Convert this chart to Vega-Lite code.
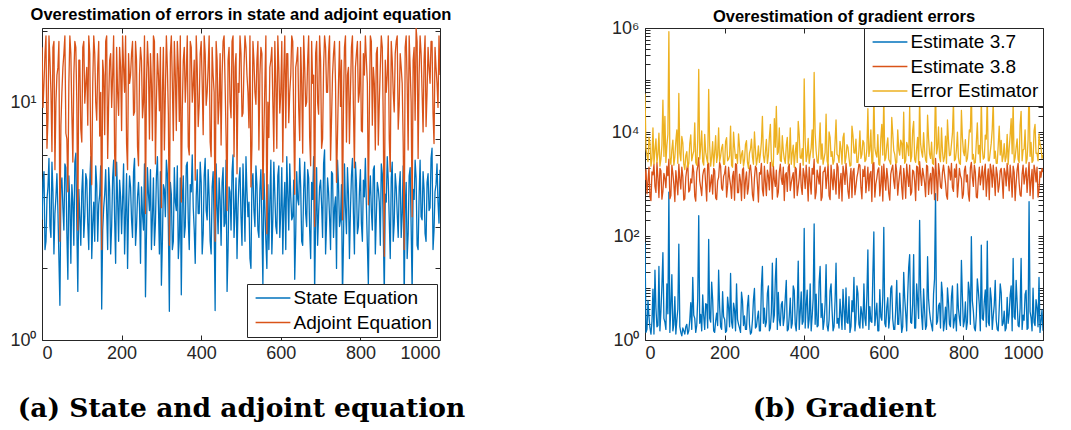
{
  "$schema": "https://vega.github.io/schema/vega-lite/v6.json",
  "padding": {"left": 9, "top": 6, "right": 5, "bottom": 0},
  "background": "white",
  "bounds": "flush",
  "spacing": 205,
  "resolve": {"scale": {"color": "independent"}, "legend": {"color": "independent"}},
  "data": {"values": [
{"x":0,"s":3.2,"a":17,"b":75,"o":1200,"e":55000},
{"x":2.5,"s":4.6,"a":9.5,"b":1.4,"o":1900,"e":4800},
{"x":5,"s":5.1,"a":12,"b":1.6,"o":650,"e":3500},
{"x":7.5,"s":2.4,"a":16,"b":5.8,"o":1100,"e":2700},
{"x":10,"s":2.6,"a":19,"b":2.8,"o":2100,"e":8000},
{"x":12.5,"s":3.9,"a":6.4,"b":1.7,"o":560,"e":6200},
{"x":15,"s":4.4,"a":8.5,"b":1.3,"o":480,"e":2200},
{"x":17.5,"s":5.8,"a":19,"b":2.3,"o":1700,"e":3100},
{"x":20,"s":3.0,"a":15,"b":9.5,"o":1500,"e":12000},
{"x":22.5,"s":2.7,"a":11,"b":1.3,"o":2400,"e":2400},
{"x":25,"s":5.6,"a":6.2,"b":22,"o":900,"e":4500},
{"x":27.5,"s":4.2,"a":17,"b":4.1,"o":690,"e":7400},
{"x":30,"s":2.3,"a":18,"b":1.8,"o":2600,"e":2600},
{"x":32.5,"s":3.4,"a":5.2,"b":1.9,"o":1300,"e":3800},
{"x":35,"s":4.0,"a":10,"b":26,"o":550,"e":9500},
{"x":37.5,"s":5.0,"a":13,"b":1.5,"o":2000,"e":2200},
{"x":40,"s":3.5,"a":14,"b":3.5,"o":1800,"e":3000},
{"x":42.5,"s":2.2,"a":18,"b":11,"o":510,"e":5600},
{"x":45,"s":1.4,"a":2.6,"b":48,"o":720,"e":41000},
{"x":47.5,"s":4.4,"a":8.0,"b":2.6,"o":1600,"e":3400},
{"x":50,"s":4.8,"a":11,"b":2.2,"o":1300,"e":20000},
{"x":52.5,"s":3.6,"a":14,"b":1.6,"o":850,"e":2600},
{"x":55,"s":2.9,"a":16,"b":12,"o":2200,"e":5500},
{"x":57.5,"s":5.5,"a":19,"b":3.2,"o":1450,"e":9000},
{"x":60,"s":5.3,"a":7.4,"b":700,"o":3000,"e":850000},
{"x":62.5,"s":2.8,"a":7.0,"b":1.4,"o":520,"e":3200},
{"x":65,"s":1.8,"a":4.2,"b":4.5,"o":600,"e":2400},
{"x":67.5,"s":4.9,"a":12,"b":18,"o":2300,"e":4600},
{"x":70,"s":3.7,"a":19,"b":1.5,"o":1600,"e":7000},
{"x":72.5,"s":2.1,"a":16,"b":2.0,"o":980,"e":2300},
{"x":75,"s":4.5,"a":9.0,"b":6.8,"o":460,"e":3300},
{"x":77.5,"s":3.8,"a":5.6,"b":1.3,"o":1800,"e":6800},
{"x":80,"s":2.5,"a":13,"b":2.4,"o":1100,"e":11000},
{"x":82.5,"s":5.6,"a":18,"b":3.9,"o":620,"e":2500},
{"x":85,"s":6.1,"a":17,"b":70,"o":2400,"e":55000},
{"x":87.5,"s":3.0,"a":10,"b":1.8,"o":1250,"e":3900},
{"x":90,"s":1.6,"a":2.9,"b":1.4,"o":800,"e":2800},
{"x":92.5,"s":4.3,"a":15,"b":1.2,"o":2100,"e":8200},
{"x":95,"s":3.3,"a":15,"b":1.7,"o":1400,"e":6200},
{"x":97.5,"s":2.5,"a":7.7,"b":1.5,"o":490,"e":2400},
{"x":100,"s":4.2,"a":6.8,"b":1.3,"o":520,"e":1900},
{"x":102.5,"s":5.2,"a":17,"b":1.8,"o":1350,"e":3500},
{"x":105,"s":2.7,"a":18,"b":2.0,"o":1900,"e":4200},
{"x":107.5,"s":3.3,"a":9.9,"b":1.3,"o":2500,"e":2100},
{"x":110,"s":5.0,"a":12,"b":1.5,"o":700,"e":2500},
{"x":112.5,"s":4.7,"a":14,"b":2.4,"o":760,"e":6000},
{"x":115,"s":3.1,"a":8.0,"b":5.2,"o":1250,"e":8800},
{"x":117.5,"s":2.4,"a":19,"b":1.6,"o":1050,"e":2800},
{"x":120,"s":4.6,"a":16,"b":16,"o":2300,"e":3600},
{"x":122.5,"s":5.9,"a":6.1,"b":3.0,"o":1700,"e":4300},
{"x":125,"s":2.2,"a":4.5,"b":2.6,"o":580,"e":15000},
{"x":127.5,"s":3.1,"a":12,"b":1.4,"o":470,"e":2600},
{"x":130,"s":3.8,"a":19,"b":1.9,"o":1700,"e":2300},
{"x":132.5,"s":2.6,"a":16,"b":6.3,"o":2200,"e":7200},
{"x":135,"s":5.4,"a":10,"b":245,"o":3200,"e":160000},
{"x":137.5,"s":4.5,"a":8.4,"b":2.1,"o":1150,"e":3000},
{"x":140,"s":2.6,"a":14,"b":3.1,"o":850,"e":5200},
{"x":142.5,"s":3.7,"a":18,"b":1.5,"o":600,"e":10500},
{"x":145,"s":4.1,"a":7.2,"b":7.4,"o":1450,"e":2700},
{"x":147.5,"s":5.4,"a":11,"b":2.9,"o":1850,"e":2300},
{"x":150,"s":1.35,"a":2.4,"b":1.6,"o":2000,"e":9000},
{"x":152.5,"s":2.9,"a":15,"b":5.0,"o":1000,"e":4100},
{"x":155,"s":3.6,"a":13,"b":4.8,"o":470,"e":3100},
{"x":157.5,"s":4.1,"a":7.3,"b":1.7,"o":2400,"e":2500},
{"x":160,"s":5.2,"a":18,"b":86,"o":2500,"e":66000},
{"x":162.5,"s":3.5,"a":19,"b":2.6,"o":710,"e":5500},
{"x":165,"s":2.4,"a":5.8,"b":2.2,"o":1050,"e":2200},
{"x":167.5,"s":5.3,"a":10,"b":13,"o":1500,"e":3300},
{"x":170,"s":4.3,"a":15,"b":6.0,"o":640,"e":6500},
{"x":172.5,"s":2.3,"a":16,"b":1.5,"o":2000,"e":2200},
{"x":175,"s":3.0,"a":9.5,"b":1.4,"o":1800,"e":4000},
{"x":177.5,"s":4.8,"a":13,"b":2.3,"o":540,"e":8500},
{"x":180,"s":5.7,"a":19,"b":3.3,"o":500,"e":2600},
{"x":182.5,"s":3.2,"a":6.0,"b":1.9,"o":1150,"e":3600},
{"x":185,"s":2.1,"a":4.9,"b":22,"o":1350,"e":12000},
{"x":187.5,"s":5.6,"a":17,"b":4.4,"o":2600,"e":2700},
{"x":190,"s":3.9,"a":11,"b":1.8,"o":2200,"e":3400},
{"x":192.5,"s":2.6,"a":8.8,"b":1.6,"o":830,"e":4900},
{"x":195,"s":4.7,"a":17,"b":8.5,"o":760,"e":5800},
{"x":197.5,"s":4.0,"a":14,"b":2.8,"o":1400,"e":2400},
{"x":200,"s":2.8,"a":7.6,"b":2.5,"o":1600,"e":2400},
{"x":202.5,"s":3.9,"a":19,"b":1.4,"o":2200,"e":6600},
{"x":205,"s":5.5,"a":14,"b":1.5,"o":560,"e":7800},
{"x":207.5,"s":2.3,"a":11,"b":6.7,"o":920,"e":2800},
{"x":210,"s":3.4,"a":19,"b":4.2,"o":2100,"e":3000},
{"x":212.5,"s":5.0,"a":6.7,"b":1.8,"o":1300,"e":3500},
{"x":215,"s":2.0,"a":5.2,"b":19,"o":950,"e":13000},
{"x":217.5,"s":3.6,"a":16,"b":2.2,"o":530,"e":2300},
{"x":220,"s":4.9,"a":12,"b":1.7,"o":1400,"e":2100},
{"x":222.5,"s":4.4,"a":13,"b":5.1,"o":1750,"e":9900},
{"x":225,"s":3.2,"a":16,"b":3.8,"o":490,"e":5000},
{"x":227.5,"s":2.7,"a":18,"b":1.5,"o":2450,"e":3100},
{"x":230,"s":5.1,"a":8.8,"b":12,"o":2400,"e":3700},
{"x":232.5,"s":5.8,"a":9.1,"b":2.5,"o":680,"e":2500},
{"x":235,"s":2.5,"a":18,"b":2.0,"o":680,"e":9200},
{"x":237.5,"s":3.0,"a":15,"b":1.7,"o":1550,"e":5200},
{"x":240,"s":4.0,"a":6.5,"b":1.4,"o":1150,"e":2500},
{"x":242.5,"s":4.6,"a":5.4,"b":8.3,"o":480,"e":3700},
{"x":245,"s":3.6,"a":13,"b":5.6,"o":1900,"e":4400},
{"x":247.5,"s":2.1,"a":17,"b":1.9,"o":2050,"e":2200},
{"x":250,"s":4.4,"a":15,"b":2.9,"o":530,"e":2900},
{"x":252.5,"s":3.4,"a":8.6,"b":1.6,"o":1200,"e":5800},
{"x":255,"s":2.9,"a":10,"b":1.6,"o":1700,"e":6800},
{"x":257.5,"s":5.5,"a":19,"b":4.6,"o":640,"e":2600},
{"x":260,"s":1.52,"a":3.4,"b":7.2,"o":870,"e":2000},
{"x":262.5,"s":2.8,"a":12,"b":2.0,"o":1900,"e":3900},
{"x":265,"s":5.3,"a":18,"b":1.3,"o":2300,"e":4700},
{"x":267.5,"s":4.1,"a":14,"b":1.4,"o":1400,"e":7300},
{"x":270,"s":3.5,"a":7.0,"b":2.4,"o":620,"e":3300},
{"x":272.5,"s":5.2,"a":16,"b":6.0,"o":480,"e":2400},
{"x":275,"s":2.4,"a":12,"b":9.8,"o":1300,"e":10000},
{"x":277.5,"s":3.3,"a":6.9,"b":1.7,"o":2200,"e":4500},
{"x":280,"s":4.8,"a":19,"b":1.8,"o":2000,"e":2300},
{"x":282.5,"s":2.5,"a":18,"b":2.7,"o":1000,"e":3200},
{"x":285,"s":3.1,"a":5.5,"b":3.6,"o":450,"e":5400},
{"x":287.5,"s":4.9,"a":10,"b":1.5,"o":1650,"e":2600},
{"x":290,"s":5.9,"a":16,"b":1.5,"o":1550,"e":3800},
{"x":292.5,"s":3.7,"a":13,"b":11,"o":2500,"e":6400},
{"x":295,"s":2.3,"a":9.2,"b":26,"o":780,"e":20000},
{"x":297.5,"s":5.1,"a":17,"b":2.1,"o":590,"e":3500},
{"x":300,"s":1.7,"a":3.6,"b":4.1,"o":2200,"e":2600},
{"x":302.5,"s":2.6,"a":11,"b":1.8,"o":1100,"e":4200},
{"x":305,"s":4.5,"a":17,"b":2.2,"o":600,"e":7200},
{"x":307.5,"s":4.3,"a":6.3,"b":7.9,"o":1850,"e":2500},
{"x":310,"s":3.3,"a":11,"b":11,"o":1450,"e":3500},
{"x":312.5,"s":5.7,"a":19,"b":1.5,"o":770,"e":8000},
{"x":315,"s":5.0,"a":14,"b":1.7,"o":2600,"e":14000},
{"x":317.5,"s":3.0,"a":8.9,"b":3.4,"o":1350,"e":3000},
{"x":320,"s":1.32,"a":2.5,"b":30,"o":510,"e":2200},
{"x":322.5,"s":4.6,"a":16,"b":2.2,"o":2300,"e":2300},
{"x":325,"s":4.1,"a":19,"b":3.0,"o":1200,"e":18000},
{"x":327.5,"s":2.4,"a":12,"b":15,"o":900,"e":5100},
{"x":330,"s":2.6,"a":6.9,"b":37,"o":1850,"e":31000},
{"x":332.5,"s":5.3,"a":18,"b":1.6,"o":560,"e":3700},
{"x":335,"s":3.8,"a":13,"b":8.2,"o":700,"e":4100},
{"x":337.5,"s":3.5,"a":7.6,"b":2.4,"o":1700,"e":12000},
{"x":340,"s":5.4,"a":18,"b":1.9,"o":2400,"e":2800},
{"x":342.5,"s":2.2,"a":14,"b":4.8,"o":1250,"e":2700},
{"x":345,"s":2.7,"a":8.3,"b":5.5,"o":980,"e":8500},
{"x":347.5,"s":4.8,"a":19,"b":1.9,"o":2100,"e":4400},
{"x":350,"s":1.55,"a":3.8,"b":2.7,"o":480,"e":3000},
{"x":352.5,"s":3.9,"a":9.3,"b":6.6,"o":1500,"e":2500},
{"x":355,"s":4.9,"a":15,"b":14,"o":1650,"e":5600},
{"x":357.5,"s":2.7,"a":17,"b":1.5,"o":720,"e":7900},
{"x":360,"s":3.0,"a":10,"b":1.6,"o":2100,"e":2400},
{"x":362.5,"s":5.4,"a":13,"b":2.9,"o":2400,"e":3300},
{"x":365,"s":5.6,"a":19,"b":6.4,"o":750,"e":12000},
{"x":367.5,"s":3.2,"a":6.5,"b":1.7,"o":1050,"e":2400},
{"x":370,"s":2.4,"a":6.0,"b":2.1,"o":1350,"e":3900},
{"x":372.5,"s":4.5,"a":18,"b":11,"o":1650,"e":5600},
{"x":375,"s":4.2,"a":17,"b":9.0,"o":540,"e":2100},
{"x":377.5,"s":6.0,"a":10,"b":2.0,"o":2100,"e":3900},
{"x":380,"s":3.6,"a":12,"b":1.5,"o":1950,"e":6300},
{"x":382.5,"s":2.9,"a":15,"b":4.2,"o":600,"e":2600},
{"x":385,"s":2.1,"a":4.7,"b":33,"o":880,"e":16000},
{"x":387.5,"s":4.0,"a":19,"b":1.6,"o":1300,"e":8800},
{"x":390,"s":5.2,"a":14,"b":3.4,"o":2500,"e":3200},
{"x":392.5,"s":3.4,"a":7.9,"b":8.4,"o":900,"e":3100},
{"x":395,"s":3.4,"a":9.8,"b":2.0,"o":630,"e":4800},
{"x":397.5,"s":5.6,"a":16,"b":2.3,"o":2000,"e":2300},
{"x":400,"s":4.6,"a":18,"b":140,"o":1500,"e":105000},
{"x":402.5,"s":2.3,"a":12,"b":1.7,"o":820,"e":6700},
{"x":405,"s":2.8,"a":7.3,"b":4.6,"o":2300,"e":2700},
{"x":407.5,"s":4.9,"a":19,"b":9.1,"o":1250,"e":3600},
{"x":410,"s":5.8,"a":16,"b":1.7,"o":470,"e":7500},
{"x":412.5,"s":3.5,"a":9.7,"b":2.5,"o":2100,"e":2500},
{"x":415,"s":3.2,"a":11,"b":12,"o":1100,"e":3600},
{"x":417.5,"s":5.2,"a":14,"b":1.5,"o":640,"e":4900},
{"x":420,"s":4.0,"a":19,"b":2.8,"o":2000,"e":11000},
{"x":422.5,"s":2.6,"a":6.8,"b":6.2,"o":1550,"e":3200},
{"x":425,"s":2.3,"a":5.9,"b":170,"o":3000,"e":140000},
{"x":427.5,"s":4.4,"a":17,"b":2.0,"o":520,"e":9600},
{"x":430,"s":5.1,"a":13,"b":7.6,"o":690,"e":4300},
{"x":432.5,"s":3.1,"a":11,"b":1.8,"o":1850,"e":2700},
{"x":435,"s":1.33,"a":2.6,"b":1.9,"o":1400,"e":2500},
{"x":437.5,"s":5.5,"a":18,"b":13,"o":1000,"e":5400},
{"x":440,"s":3.7,"a":15,"b":26,"o":2200,"e":15000},
{"x":442.5,"s":2.8,"a":8.1,"b":2.7,"o":480,"e":3000},
{"x":445,"s":4.8,"a":10,"b":5.0,"o":560,"e":5900},
{"x":447.5,"s":3.9,"a":16,"b":1.6,"o":1700,"e":2400},
{"x":450,"s":2.5,"a":6.6,"b":2.3,"o":1750,"e":3100},
{"x":452.5,"s":4.6,"a":13,"b":4.9,"o":2100,"e":4000},
{"x":455,"s":5.3,"a":18,"b":28,"o":820,"e":22000},
{"x":457.5,"s":3.0,"a":19,"b":1.9,"o":1400,"e":2800},
{"x":460,"s":3.1,"a":12,"b":1.5,"o":2400,"e":2300},
{"x":462.5,"s":5.7,"a":7.2,"b":2.4,"o":590,"e":10000},
{"x":465,"s":1.6,"a":3.5,"b":8.8,"o":500,"e":8000},
{"x":467.5,"s":2.4,"a":15,"b":12,"o":2300,"e":3400},
{"x":470,"s":4.4,"a":17,"b":3.7,"o":1300,"e":4200},
{"x":472.5,"s":4.2,"a":10,"b":1.5,"o":780,"e":2400},
{"x":475,"s":2.9,"a":8.6,"b":1.8,"o":1900,"e":2800},
{"x":477.5,"s":5.1,"a":18,"b":5.6,"o":1150,"e":6200},
{"x":480,"s":6.0,"a":19,"b":30,"o":640,"e":17000},
{"x":482.5,"s":2.7,"a":5.9,"b":2.1,"o":2500,"e":3700},
{"x":485,"s":3.5,"a":14,"b":2.6,"o":2100,"e":3500},
{"x":487.5,"s":4.8,"a":16,"b":1.7,"o":530,"e":2600},
{"x":490,"s":2.2,"a":5.0,"b":6.1,"o":1050,"e":6600},
{"x":492.5,"s":3.6,"a":12,"b":3.1,"o":1600,"e":4700},
{"x":495,"s":4.7,"a":11,"b":1.6,"o":470,"e":2400},
{"x":497.5,"s":5.3,"a":19,"b":9.4,"o":2200,"e":7800},
{"x":500,"s":3.3,"a":16,"b":3.9,"o":1600,"e":9500},
{"x":502.5,"s":2.5,"a":8.7,"b":1.6,"o":980,"e":2500},
{"x":505,"s":5.5,"a":9.0,"b":10,"o":2500,"e":3300},
{"x":507.5,"s":4.0,"a":14,"b":2.2,"o":1450,"e":5700},
{"x":510,"s":2.6,"a":19,"b":2.1,"o":730,"e":5100},
{"x":512.5,"s":5.9,"a":17,"b":6.8,"o":530,"e":3200},
{"x":515,"s":4.2,"a":13,"b":1.4,"o":1250,"e":2200},
{"x":517.5,"s":3.3,"a":11,"b":1.8,"o":2000,"e":2300},
{"x":520,"s":3.8,"a":7.8,"b":5.7,"o":550,"e":13000},
{"x":522.5,"s":2.2,"a":19,"b":3.5,"o":1700,"e":8600},
{"x":525,"s":2.0,"a":4.4,"b":16,"o":2000,"e":4000},
{"x":527.5,"s":4.7,"a":6.6,"b":1.5,"o":620,"e":3900},
{"x":530,"s":5.0,"a":18,"b":2.5,"o":900,"e":7300},
{"x":532.5,"s":3.5,"a":15,"b":11,"o":1350,"e":2600},
{"x":535,"s":3.0,"a":11,"b":7.9,"o":1700,"e":2600},
{"x":537.5,"s":5.4,"a":9.8,"b":2.0,"o":2400,"e":4400},
{"x":540,"s":4.5,"a":15,"b":1.7,"o":2300,"e":10500},
{"x":542.5,"s":2.9,"a":18,"b":4.4,"o":860,"e":3100},
{"x":545,"s":2.7,"a":6.3,"b":3.2,"o":520,"e":3700},
{"x":547.5,"s":4.3,"a":13,"b":1.7,"o":1900,"e":6900},
{"x":550,"s":5.2,"a":17,"b":12,"o":1400,"e":6200},
{"x":552.5,"s":3.1,"a":16,"b":2.6,"o":2200,"e":2700},
{"x":555,"s":1.7,"a":3.9,"b":1.9,"o":680,"e":2900},
{"x":557.5,"s":5.0,"a":7.4,"b":7.2,"o":1150,"e":4800},
{"x":560,"s":3.6,"a":12,"b":54,"o":2100,"e":28000},
{"x":562.5,"s":2.6,"a":19,"b":1.6,"o":740,"e":3400},
{"x":565,"s":2.0,"a":2.8,"b":4.4,"o":1550,"e":4600},
{"x":567.5,"s":4.5,"a":10,"b":2.3,"o":1750,"e":11000},
{"x":570,"s":2.4,"a":7.1,"b":2.2,"o":460,"e":2500},
{"x":572.5,"s":3.8,"a":14,"b":18,"o":2500,"e":2600},
{"x":575,"s":5.7,"a":15,"b":120,"o":2600,"e":60000},
{"x":577.5,"s":2.3,"a":17,"b":1.9,"o":560,"e":5000},
{"x":580,"s":3.2,"a":10,"b":3.0,"o":1000,"e":3800},
{"x":582.5,"s":5.6,"a":6.2,"b":5.1,"o":1300,"e":3300},
{"x":585,"s":4.1,"a":18,"b":1.5,"o":1850,"e":8900},
{"x":587.5,"s":3.0,"a":12,"b":1.5,"o":2050,"e":2400},
{"x":590,"s":2.8,"a":6.4,"b":9.3,"o":590,"e":2300},
{"x":592.5,"s":4.9,"a":19,"b":2.8,"o":1000,"e":7600},
{"x":595,"s":5.4,"a":14,"b":2.4,"o":2200,"e":14000},
{"x":597.5,"s":2.7,"a":9.0,"b":7.0,"o":470,"e":3600},
{"x":600,"s":3.5,"a":11,"b":147,"o":2400,"e":50000},
{"x":602.5,"s":5.3,"a":18,"b":2.1,"o":1250,"e":2800},
{"x":605,"s":2.3,"a":5.6,"b":1.8,"o":760,"e":3200},
{"x":607.5,"s":3.6,"a":13,"b":4.3,"o":2000,"e":5500},
{"x":610,"s":4.6,"a":19,"b":6.5,"o":1300,"e":7700},
{"x":612.5,"s":2.4,"a":7.8,"b":1.7,"o":660,"e":3000},
{"x":615,"s":5.9,"a":16,"b":2.7,"o":490,"e":2700},
{"x":617.5,"s":4.1,"a":16,"b":9.8,"o":1550,"e":2400},
{"x":620,"s":2.9,"a":8.2,"b":11,"o":1950,"e":19000},
{"x":622.5,"s":5.5,"a":11,"b":2.5,"o":2300,"e":9200},
{"x":625,"s":4.0,"a":13,"b":1.6,"o":1150,"e":4400},
{"x":627.5,"s":3.2,"a":19,"b":1.6,"o":820,"e":3700},
{"x":630,"s":3.3,"a":18,"b":4.0,"o":2500,"e":2500},
{"x":632.5,"s":4.7,"a":8.3,"b":14,"o":1700,"e":2600},
{"x":635,"s":1.8,"a":4.1,"b":2.0,"o":610,"e":11000},
{"x":637.5,"s":2.8,"a":14,"b":2.0,"o":1050,"e":4600},
{"x":640,"s":5.1,"a":15,"b":8.0,"o":1600,"e":3600},
{"x":642.5,"s":3.9,"a":17,"b":3.3,"o":2250,"e":7000},
{"x":645,"s":3.7,"a":9.4,"b":1.4,"o":870,"e":6000},
{"x":647.5,"s":5.8,"a":6.9,"b":1.8,"o":510,"e":3100},
{"x":650,"s":4.4,"a":17,"b":20,"o":2000,"e":24000},
{"x":652.5,"s":2.6,"a":12,"b":6.4,"o":1300,"e":2500},
{"x":655,"s":2.5,"a":6.1,"b":3.3,"o":530,"e":2800},
{"x":657.5,"s":4.3,"a":19,"b":1.5,"o":2400,"e":6300},
{"x":660,"s":5.6,"a":14,"b":7.0,"o":1450,"e":5300},
{"x":662.5,"s":3.4,"a":9.6,"b":25,"o":900,"e":3500},
{"x":665,"s":3.0,"a":10,"b":44,"o":2300,"e":30000},
{"x":667.5,"s":5.2,"a":15,"b":2.2,"o":610,"e":2700},
{"x":670,"s":4.8,"a":19,"b":2.1,"o":700,"e":3400},
{"x":672.5,"s":2.9,"a":7.1,"b":4.9,"o":1850,"e":10500},
{"x":675,"s":2.2,"a":5.4,"b":44,"o":1750,"e":16000},
{"x":677.5,"s":4.6,"a":18,"b":1.7,"o":1150,"e":3000},
{"x":680,"s":3.9,"a":12,"b":1.7,"o":480,"e":2600},
{"x":682.5,"s":5.9,"a":13,"b":12,"o":2200,"e":4800},
{"x":685,"s":1.6,"a":3.0,"b":5.9,"o":2100,"e":7900},
{"x":687.5,"s":3.1,"a":16,"b":2.6,"o":760,"e":2400},
{"x":690,"s":5.3,"a":18,"b":200,"o":2700,"e":45000},
{"x":692.5,"s":2.5,"a":10,"b":8.7,"o":1500,"e":5900},
{"x":695,"s":3.4,"a":8.9,"b":2.9,"o":940,"e":4100},
{"x":697.5,"s":4.4,"a":19,"b":1.6,"o":2000,"e":3300},
{"x":700,"s":4.7,"a":15,"b":9.6,"o":1500,"e":9700},
{"x":702.5,"s":3.7,"a":6.4,"b":3.7,"o":1050,"e":4400},
{"x":705,"s":2.7,"a":7.0,"b":1.6,"o":570,"e":2900},
{"x":707.5,"s":5.5,"a":14,"b":1.9,"o":2300,"e":2600},
{"x":710,"s":6.3,"a":19,"b":40,"o":2200,"e":21000},
{"x":712.5,"s":2.3,"a":17,"b":6.1,"o":630,"e":7500},
{"x":715,"s":3.1,"a":11,"b":3.5,"o":1200,"e":3800},
{"x":717.5,"s":4.8,"a":11,"b":2.4,"o":1600,"e":3100},
{"x":720,"s":4.2,"a":16,"b":1.9,"o":650,"e":6400},
{"x":722.5,"s":3.3,"a":19,"b":1.5,"o":2100,"e":2500},
{"x":725,"s":2.4,"a":5.7,"b":7.7,"o":1900,"e":2400},
{"x":727.5,"s":5.1,"a":8.5,"b":15,"o":500,"e":5700},
{"x":730,"s":5.0,"a":13,"b":650,"o":3100,"e":80000},
{"x":732.5,"s":2.7,"a":16,"b":2.0,"o":1350,"e":3800},
{"x":735,"s":3.6,"a":18,"b":2.3,"o":480,"e":5000},
{"x":737.5,"s":4.0,"a":12,"b":4.5,"o":2450,"e":12500},
{"x":740,"s":2.0,"a":4.6,"b":5.1,"o":1650,"e":3300},
{"x":742.5,"s":5.7,"a":7.3,"b":1.7,"o":880,"e":2700},
{"x":745,"s":4.5,"a":12,"b":13,"o":820,"e":12000},
{"x":747.5,"s":3.0,"a":18,"b":7.6,"o":1700,"e":4200},
{"x":750,"s":3.2,"a":9.6,"b":1.5,"o":2300,"e":2700},
{"x":752.5,"s":4.5,"a":15,"b":2.2,"o":1550,"e":3300},
{"x":755,"s":1.5,"a":3.2,"b":4.3,"o":1050,"e":8300},
{"x":757.5,"s":2.6,"a":10,"b":1.6,"o":600,"e":2500},
{"x":760,"s":5.5,"a":17,"b":10,"o":510,"e":17000},
{"x":762.5,"s":3.6,"a":19,"b":5.3,"o":2200,"e":6900},
{"x":765,"s":2.8,"a":6.8,"b":2.0,"o":1800,"e":3500},
{"x":767.5,"s":5.3,"a":13,"b":1.8,"o":1200,"e":3600},
{"x":770,"s":4.1,"a":14,"b":6.9,"o":2500,"e":5800},
{"x":772.5,"s":2.2,"a":6.7,"b":11,"o":850,"e":9500},
{"x":775,"s":3.5,"a":11,"b":1.7,"o":720,"e":40000},
{"x":777.5,"s":4.9,"a":17,"b":2.5,"o":1950,"e":2800},
{"x":780,"s":5.8,"a":19,"b":3.1,"o":1350,"e":3000},
{"x":782.5,"s":3.4,"a":9.4,"b":1.5,"o":2400,"e":4600},
{"x":785,"s":2.3,"a":5.3,"b":12,"o":560,"e":9900},
{"x":787.5,"s":5.6,"a":14,"b":4.0,"o":1000,"e":3200},
{"x":790,"s":4.6,"a":16,"b":2.6,"o":2000,"e":2500},
{"x":792.5,"s":2.8,"a":18,"b":1.9,"o":1450,"e":2400},
{"x":795,"s":3.0,"a":10,"b":34,"o":1250,"e":26000},
{"x":797.5,"s":4.2,"a":11,"b":6.8,"o":530,"e":7800},
{"x":800,"s":5.2,"a":18,"b":1.8,"o":640,"e":4200},
{"x":802.5,"s":3.1,"a":7.6,"b":2.3,"o":1800,"e":3500},
{"x":805,"s":2.6,"a":7.5,"b":5.4,"o":2200,"e":7100},
{"x":807.5,"s":4.7,"a":16,"b":1.6,"o":1100,"e":2700},
{"x":810,"s":4.0,"a":13,"b":2.2,"o":1500,"e":3100},
{"x":812.5,"s":5.8,"a":19,"b":13,"o":640,"e":5300},
{"x":815,"s":3.7,"a":15,"b":8.6,"o":470,"e":11000},
{"x":817.5,"s":2.5,"a":12,"b":2.0,"o":2050,"e":10000},
{"x":820,"s":1.7,"a":3.7,"b":97,"o":2600,"e":70000},
{"x":822.5,"s":4.0,"a":9.2,"b":5.7,"o":1350,"e":3000},
{"x":825,"s":4.9,"a":19,"b":3.6,"o":900,"e":3700},
{"x":827.5,"s":3.5,"a":18,"b":1.7,"o":2300,"e":2500},
{"x":830,"s":2.9,"a":8.0,"b":1.5,"o":1700,"e":2600},
{"x":832.5,"s":5.2,"a":14,"b":3.0,"o":560,"e":6500},
{"x":835,"s":5.4,"a":12,"b":15,"o":540,"e":15000},
{"x":837.5,"s":2.3,"a":6.3,"b":8.9,"o":1250,"e":3800},
{"x":840,"s":3.3,"a":16,"b":4.7,"o":2100,"e":5500},
{"x":842.5,"s":4.6,"a":17,"b":1.5,"o":960,"e":2600},
{"x":845,"s":4.3,"a":6.6,"b":67,"o":1400,"e":45000},
{"x":847.5,"s":3.8,"a":10,"b":2.6,"o":2200,"e":4900},
{"x":850,"s":2.5,"a":14,"b":2.4,"o":780,"e":3000},
{"x":852.5,"s":5.5,"a":19,"b":5.5,"o":1650,"e":3200},
{"x":855,"s":5.0,"a":17,"b":9.2,"o":2400,"e":8700},
{"x":857.5,"s":2.9,"a":8.2,"b":1.8,"o":580,"e":7300},
{"x":860,"s":1.55,"a":2.25,"b":80,"o":1200,"e":50000},
{"x":862.5,"s":4.1,"a":15,"b":2.2,"o":1950,"e":2800},
{"x":865,"s":3.8,"a":11,"b":1.9,"o":500,"e":2800},
{"x":867.5,"s":5.9,"a":13,"b":10,"o":2400,"e":4200},
{"x":870,"s":4.7,"a":19,"b":6.2,"o":1850,"e":6100},
{"x":872.5,"s":3.2,"a":7.0,"b":1.6,"o":870,"e":11500},
{"x":875,"s":2.2,"a":5.1,"b":2.9,"o":2300,"e":40000},
{"x":877.5,"s":4.8,"a":18,"b":4.7,"o":1350,"e":3100},
{"x":880,"s":5.6,"a":15,"b":14,"o":600,"e":4300},
{"x":882.5,"s":2.6,"a":11,"b":2.4,"o":2100,"e":2500},
{"x":885,"s":3.1,"a":9.1,"b":1.6,"o":1550,"e":2500},
{"x":887.5,"s":5.0,"a":16,"b":1.5,"o":700,"e":5600},
{"x":890,"s":4.4,"a":18,"b":4.0,"o":950,"e":13000},
{"x":892.5,"s":3.4,"a":19,"b":12,"o":1800,"e":3600},
{"x":895,"s":2.7,"a":7.7,"b":8.1,"o":2000,"e":6900},
{"x":897.5,"s":4.4,"a":9.7,"b":1.9,"o":1200,"e":2700},
{"x":900,"s":5.1,"a":16,"b":2.1,"o":530,"e":3400},
{"x":902.5,"s":2.7,"a":14,"b":3.6,"o":2000,"e":6000},
{"x":905,"s":3.4,"a":12,"b":1.5,"o":1650,"e":2700},
{"x":907.5,"s":5.4,"a":6.8,"b":1.7,"o":920,"e":3300},
{"x":910,"s":1.45,"a":2.4,"b":6.6,"o":2500,"e":9000},
{"x":912.5,"s":3.6,"a":17,"b":2.1,"o":1450,"e":2400},
{"x":915,"s":4.6,"a":19,"b":3.2,"o":740,"e":4800},
{"x":917.5,"s":2.2,"a":12,"b":7.3,"o":2300,"e":8700},
{"x":920,"s":2.8,"a":6.3,"b":11,"o":1300,"e":18000},
{"x":922.5,"s":4.9,"a":19,"b":1.5,"o":560,"e":3800},
{"x":925,"s":5.3,"a":14,"b":37,"o":2200,"e":38000},
{"x":927.5,"s":3.0,"a":10,"b":2.8,"o":1700,"e":2600},
{"x":930,"s":1.6,"a":3.3,"b":2.5,"o":480,"e":3200},
{"x":932.5,"s":4.3,"a":15,"b":14,"o":1050,"e":5100},
{"x":935,"s":3.9,"a":17,"b":5.3,"o":1900,"e":7400},
{"x":937.5,"s":5.7,"a":8.4,"b":1.9,"o":2500,"e":3000},
{"x":940,"s":4.8,"a":20.5,"b":1.8,"o":1050,"e":2600},
{"x":942.5,"s":2.5,"a":18,"b":4.1,"o":620,"e":13500},
{"x":945,"s":2.4,"a":5.8,"b":37,"o":580,"e":25000},
{"x":947.5,"s":4.0,"a":13,"b":1.6,"o":1550,"e":2800},
{"x":950,"s":5.7,"a":19,"b":3.0,"o":2300,"e":4500},
{"x":952.5,"s":3.3,"a":16,"b":2.4,"o":1000,"e":4700},
{"x":955,"s":3.2,"a":11,"b":7.5,"o":1450,"e":11000},
{"x":957.5,"s":5.1,"a":7.5,"b":9.0,"o":2050,"e":2500},
{"x":960,"s":4.3,"a":15,"b":1.6,"o":690,"e":3000},
{"x":962.5,"s":2.8,"a":19,"b":1.7,"o":1400,"e":7100},
{"x":965,"s":2.6,"a":7.9,"b":460,"o":2600,"e":90000},
{"x":967.5,"s":4.6,"a":11,"b":3.5,"o":600,"e":3400},
{"x":970,"s":5.0,"a":17,"b":2.7,"o":1150,"e":6300},
{"x":972.5,"s":3.5,"a":14,"b":1.5,"o":1900,"e":2600},
{"x":975,"s":3.6,"a":12,"b":9.9,"o":520,"e":2800},
{"x":977.5,"s":5.8,"a":18,"b":2.2,"o":2300,"e":10500},
{"x":980,"s":6.4,"a":18,"b":1.9,"o":1800,"e":14000},
{"x":982.5,"s":2.4,"a":9.0,"b":6.0,"o":1100,"e":3900},
{"x":985,"s":2.9,"a":6.7,"b":4.2,"o":2100,"e":3900},
{"x":987.5,"s":4.2,"a":17,"b":1.8,"o":560,"e":2800},
{"x":990,"s":4.5,"a":14,"b":16,"o":760,"e":9200},
{"x":992.5,"s":5.5,"a":12,"b":1.4,"o":1750,"e":5800},
{"x":995,"s":3.8,"a":9.5,"b":2.3,"o":1350,"e":5100},
{"x":997.5,"s":3.1,"a":19,"b":3.8,"o":2000,"e":3100},
{"x":1000,"s":5.2,"a":13,"b":1.5,"o":1700,"e":3600}
  ]},
  "hconcat": [
    {
      "width": 398,
      "height": 312,
      "title": {"text": "Overestimation of errors in state and adjoint equation"},
      "transform": [{"fold": ["s", "a"], "as": ["k", "v"]}],
      "resolve": {"axis": {"x": "independent", "y": "independent"}},
      "layer": [
        {
          "mark": {"type": "line", "strokeWidth": 1.3, "clip": true, "strokeJoin": "round"},
          "encoding": {
            "x": {"field": "x", "type": "quantitative", "scale": {"domain": [0, 1000], "nice": false},
                  "axis": {"values": [0, 200, 400, 600, 800, 1000], "format": "d", "labelPadding": 9, "title": "(a) State and adjoint equation", "titleY": 76, "titleBaseline": "alphabetic"}},
            "y": {"field": "v", "type": "quantitative", "scale": {"type": "log", "domain": [1, 20.5], "nice": false},
                  "axis": {"values": [1, 2, 3, 4, 5, 6, 7, 8, 9, 10, 20], "title": null, "labelPadding": 11,
                           "labelExpr": "datum.value == 1 ? '10⁰' : datum.value == 10 ? '10¹' : ''"}},
            "color": {"field": "k", "type": "nominal", "scale": {"domain": ["s", "a"], "range": ["#0072BD", "#D95319"]},
                      "legend": {"title": null, "orient": "bottom-right", "offset": 3,
                                 "labelExpr": "datum.value == 's' ? 'State Equation' : 'Adjoint Equation'"}}
          }
        },
        {
          "mark": {"type": "line", "opacity": 0},
          "encoding": {
            "x": {"field": "x", "type": "quantitative", "axis": {"orient": "top", "labels": false, "title": null, "values": [0, 200, 400, 600, 800, 1000]}},
            "y": {"field": "v", "type": "quantitative", "axis": {"orient": "right", "labels": false, "title": null, "values": [1, 2, 3, 4, 5, 6, 7, 8, 9, 10, 20]}}
          }
        }
      ]
    },
    {
      "width": 398,
      "height": 312,
      "title": {"text": "Overestimation of gradient errors", "dy": 10},
      "transform": [{"fold": ["b", "o", "e"], "as": ["k", "v"]}],
      "resolve": {"axis": {"x": "independent", "y": "independent"}},
      "layer": [
        {
          "mark": {"type": "line", "strokeWidth": 1.3, "clip": true, "strokeJoin": "round"},
          "encoding": {
            "x": {"field": "x", "type": "quantitative", "scale": {"domain": [0, 1000], "nice": false},
                  "axis": {"values": [0, 200, 400, 600, 800, 1000], "format": "d", "labelPadding": 9, "title": "(b) Gradient", "titleY": 76, "titleBaseline": "alphabetic"}},
            "y": {"field": "v", "type": "quantitative", "scale": {"type": "log", "domain": [1, 1000000], "nice": false},
                  "axis": {"values": [1,2,3,4,5,6,7,8,9,10,20,30,40,50,60,70,80,90,100,200,300,400,500,600,700,800,900,1000,2000,3000,4000,5000,6000,7000,8000,9000,10000,20000,30000,40000,50000,60000,70000,80000,90000,100000,200000,300000,400000,500000,600000,700000,800000,900000,1000000],
                           "title": null, "labelPadding": 11,
                           "labelExpr": "datum.value == 1 ? '10⁰' : datum.value == 100 ? '10²' : datum.value == 10000 ? '10⁴' : datum.value == 1000000 ? '10⁶' : ''"}},
            "color": {"field": "k", "type": "nominal", "scale": {"domain": ["b", "o", "e"], "range": ["#0072BD", "#D95319", "#EDB120"]},
                      "legend": {"title": null, "orient": "top-right", "offset": 0,
                                 "labelExpr": "datum.value == 'b' ? 'Estimate 3.7' : datum.value == 'o' ? 'Estimate 3.8' : 'Error Estimator'"}}
          }
        },
        {
          "mark": {"type": "line", "opacity": 0},
          "encoding": {
            "x": {"field": "x", "type": "quantitative", "axis": {"orient": "top", "labels": false, "title": null, "values": [0, 200, 400, 600, 800, 1000]}},
            "y": {"field": "v", "type": "quantitative", "axis": {"orient": "right", "labels": false, "title": null,
                  "values": [1,2,3,4,5,6,7,8,9,10,20,30,40,50,60,70,80,90,100,200,300,400,500,600,700,800,900,1000,2000,3000,4000,5000,6000,7000,8000,9000,10000,20000,30000,40000,50000,60000,70000,80000,90000,100000,200000,300000,400000,500000,600000,700000,800000,900000,1000000]}}
          }
        }
      ]
    }
  ],
  "config": {
    "font": "Liberation Sans",
    "view": {"stroke": "#262626", "strokeWidth": 1},
    "axis": {
      "grid": false, "domain": false,
      "labelFont": "Liberation Sans", "labelFontSize": 18, "labelColor": "#262626",
      "tickColor": "#262626", "tickSize": -5,
      "titleFont": "DejaVu Serif", "titleFontWeight": "bold", "titleFontSize": 26.5, "titleColor": "black"
    },
    "title": {"font": "Liberation Sans", "fontSize": 16.5, "fontWeight": "bold", "color": "black", "offset": 4, "anchor": "middle", "frame": "group"},
    "legend": {
      "labelFont": "Liberation Sans", "labelFontSize": 19, "labelColor": "black",
      "strokeColor": "#262626", "fillColor": "white", "padding": 4.5, "rowPadding": 4.5,
      "symbolType": "M-2.9,0H2.9", "symbolSize": 144, "symbolStrokeWidth": 1.5,
      "symbolOffset": 12, "labelOffset": 11
    }
  }
}
